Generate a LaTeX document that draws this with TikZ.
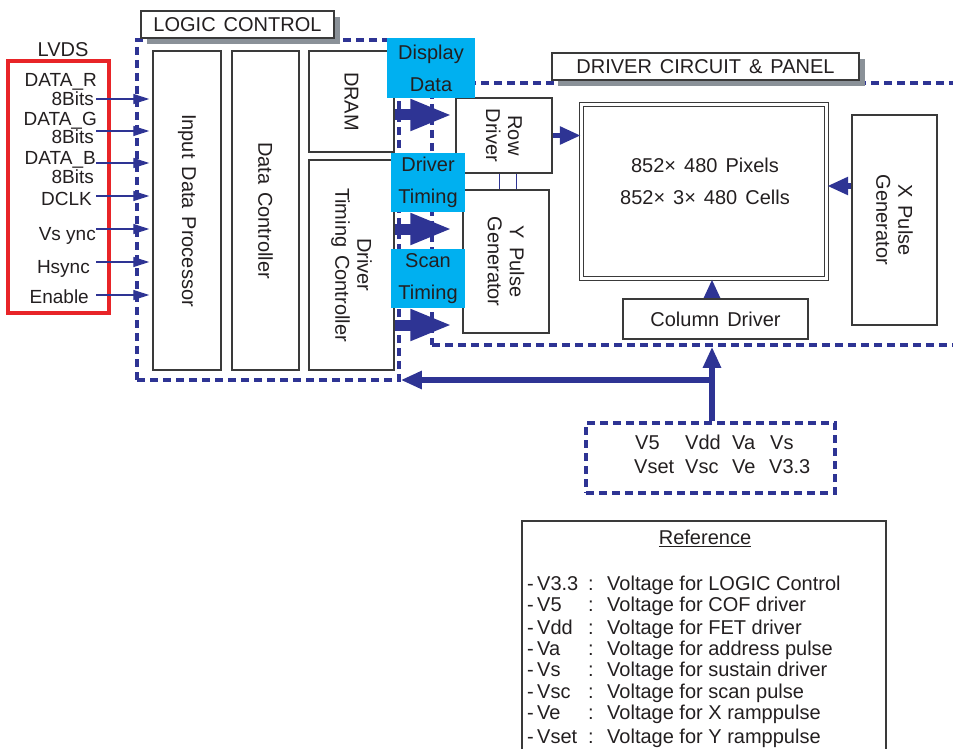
\documentclass[tikz,border=0pt]{standalone}
\usepackage{fontspec}
\setmainfont{Liberation Sans}
\usetikzlibrary{arrows.meta, shadows, positioning}
\definecolor{navy}{RGB}{46,52,148}
\definecolor{skyfill}{RGB}{0,176,240}
\definecolor{lvdsred}{RGB}{232,36,40}
\definecolor{shadegray}{RGB}{138,145,152}
\definecolor{edgegray}{RGB}{58,58,58}
\definecolor{ink}{RGB}{35,31,32}
\newcommand{\diafont}{\fontsize{20}{22}\selectfont\spaceskip=0.4em plus 0.1em}
\newcommand{\skyfont}{\fontsize{20}{32}\selectfont\spaceskip=0.4em plus 0.1em}
\newcommand{\reffont}{\fontsize{20}{21}\selectfont}
\newcommand{\lvdsfont}{\fontsize{19}{20}\selectfont}
\tikzset{
  blk/.style={draw=edgegray, line width=1.5pt, fill=white, inner sep=0pt, align=center, font=\diafont, text=ink},
  vblk/.style={blk, rotate=-90},
  tag/.style={blk, drop shadow={shadow xshift=6pt, shadow yshift=-6pt, fill=shadegray, opacity=1}},
  sky/.style={fill=skyfill, inner sep=0pt, align=center, font=\skyfont, text=ink},
  frame/.style={draw=navy, line width=3.5pt, dash pattern=on 8pt off 5pt, inner sep=0pt},
  txt/.style={inner sep=0pt, text height=14.3pt, text depth=0pt, font=\diafont, text=ink},
  reftxt/.style={txt, font=\reffont},
  sig/.style={draw=navy, line width=1.2pt, -{Triangle[length=16pt, width=10pt]}, shorten >=3pt},
  midarr/.style={draw=navy, line width=5.5pt, -{Triangle[length=21pt, width=17pt]}},
  bigarr/.style={draw=navy, line width=11pt, -{Triangle[length=42pt, width=29pt]}},
  tie/.style={draw=navy, line width=1pt},
}

\begin{document}
\begin{tikzpicture}[x=1pt, y=-1pt]
  \useasboundingbox (0,0) rectangle (953,749);

  % dashed frames
  \node[frame, minimum width=262pt, minimum height=340pt] (logframe) at (268,210) {};
  \node[frame, minimum width=528pt, minimum height=262pt] (drvframe) at (696,214) {};

  % LVDS inputs
  \node[draw=lvdsred, line width=3.5pt, minimum width=101pt, minimum height=252pt, inner sep=0pt] (lvds) at (58.5,187) {};
  \node[txt] (lvdstitle) at (63,49) {LVDS};
  \foreach \yy/\xx/\lt [count=\i] in {80/97/DATA\_R, 99/94/8Bits, 119/97/DATA\_G, 137/94/8Bits,
      158/96/DATA\_B, 177/94/8Bits, 199/92/DCLK, 234/96/Vs ync, 267/90/Hsync, 297/89/Enable}
    \node[txt, font=\lvdsfont, text height=13.6pt, anchor=east] (in\i) at (\xx,\yy) {\lt};

  % logic control blocks
  \node[vblk, minimum width=319pt, minimum height=68pt] (idp) at (187,210.5) {Input Data Processor};
  \node[vblk, minimum width=319pt, minimum height=67pt] (dctl) at (265.5,210.5) {Data Controller};
  \node[vblk, minimum width=101pt, minimum height=85pt] (dram) at (351.5,101.5) {DRAM};
  \node[vblk, minimum width=210pt, minimum height=85pt] (dtc) at (351.5,265) {Driver\\Timing Controller};

  \foreach \yy [count=\i] in {99,131,163,196,229,262,295} {
    \coordinate (src\i) at (96,\yy);
    \draw[sig] (src\i) -- (src\i -| idp.south);
  }

  % driver circuit blocks
  \node[vblk, minimum width=75pt, minimum height=96pt] (rowd) at (504,135.5) {Row\\Driver};
  \node[vblk, minimum width=143pt, minimum height=86pt] (ypg) at (506,261.5) {Y Pulse\\Generator};
  \node[draw=edgegray, line width=1.3pt, double, double distance=2.5pt, minimum width=245pt, minimum height=174pt, inner sep=0pt] (panel) at (704,191.5) {};
  \node[inner sep=0pt, align=center, font=\skyfont, text=ink] (pixtxt) at (705,181) {852× 480 Pixels\\852× 3× 480 Cells};
  \node[vblk, minimum width=210pt, minimum height=85pt] (xpg) at (894.5,220) {X Pulse\\Generator};

  \draw[tie] (rowd.east -| 499,0) -- (ypg.west -| 499,0);
  \draw[tie] (rowd.east -| 516,0) -- (ypg.west -| 516,0);

  \draw[bigarr, shorten >=3pt] (dram.north |- 0,115) -- (rowd.south |- 0,115);
  \draw[bigarr, shorten >=10pt] (dtc.north |- 0,229) -- (ypg.south |- 0,229);
  \draw[bigarr, shorten >=10pt] (dtc.north |- 0,325) -- (ypg.south |- 0,325);

  \draw[midarr] (rowd.north) -- (rowd.north -| panel.west);
  \draw[midarr] (xpg.south |- 0,186) -- (panel.east |- 0,186);

  % power distribution
  \coordinate (pj) at (712,380);
  \draw[midarr] (712,310) -- (pj |- panel.south);
  \node[blk, minimum width=185pt, minimum height=40pt] (cold) at (715.5,319) {Column Driver};

  \node[frame, minimum width=249pt, minimum height=70pt] (vbox) at (710.5,458) {};
  \foreach \xx/\yy/\vt [count=\i] in {635/442/V5, 685/442/Vdd, 732/442/Va, 770/442/Vs,
      634/466/Vset, 685/466/Vsc, 732/466/Ve, 769/466/V3.3}
    \node[txt, anchor=west] (vt\i) at (\xx,\yy) {\vt};
  \draw[midarr] (vbox.north -| pj) -- (pj |- drvframe.south);
  \draw[midarr] (pj) -- (pj -| logframe.east);

  % section tags
  \node[tag, minimum width=193pt, minimum height=27pt] (logtag) at (237.5,24.5) {LOGIC CONTROL};
  \node[tag, minimum width=307pt, minimum height=27pt] (drvtag) at (705.5,66.5) {DRIVER CIRCUIT \& PANEL};

  % signal tags
  \node[sky, minimum width=88pt, minimum height=60pt] (ddata) at (431,68) {Display\\Data};
  \node[sky, minimum width=74pt, minimum height=59pt] (dtime) at (428,182.5) {Driver\\Timing};
  \node[sky, minimum width=74pt, minimum height=59pt] (stime) at (428,278.5) {Scan\\Timing};

  % reference table
  \node[draw=edgegray, line width=1.5pt, minimum width=364pt, minimum height=235pt, inner sep=0pt] (refbox) at (704,638.5) {};
  \node[reftxt] (reftitle) at (705,537) {\underline{Reference}};
  \foreach \yy/\vn/\desc [count=\i] in {583/V3.3/LOGIC Control, 604/V5/COF driver, 627/Vdd/FET driver,
      648/Va/address pulse, 669/Vs/sustain driver, 691/Vsc/scan pulse, 712/Ve/X ramppulse, 736/Vset/Y ramppulse} {
    \node[reftxt, anchor=west] (vn\i) at (527,\yy) {-\,\vn};
    \node[reftxt] (colon\i) at (591,\yy) {:};
    \node[reftxt, anchor=west] (vd\i) at (607,\yy) {Voltage for \desc};
  }
\end{tikzpicture}
\end{document}
